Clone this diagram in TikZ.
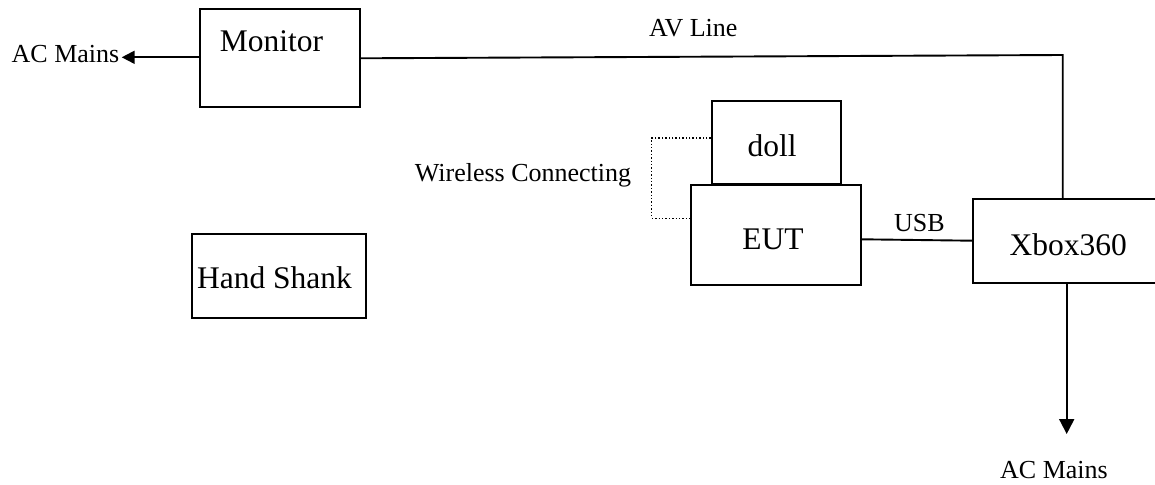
\documentclass[tikz,border=0pt]{standalone}
\usepackage{fontspec}
\setmainfont{Liberation Serif}
\usetikzlibrary{arrows.meta}
\begin{document}
\begin{tikzpicture}[x=1pt,y=-1pt,
  box/.style={draw,line width=1.9pt,inner sep=0pt},
  big/.style={font=\fontsize{31.5}{36}\selectfont,anchor=base,inner sep=0pt},
  lbl/.style={font=\fontsize{26}{30}\selectfont,anchor=base,inner sep=0pt},
  wire/.style={line width=1.9pt},
  dotline/.style={line width=1.4pt,dotted}]
\useasboundingbox (0,0) rectangle (1155,484);
% boxes
\node[box,minimum width=160pt,minimum height=98pt] (mon) at (280,58) {};
\node[box,minimum width=174pt,minimum height=84pt] (hs) at (279,276) {};
\node[box,minimum width=129pt,minimum height=83.3pt] (doll) at (776.2,142.3) {};
\node[box,minimum width=169.7pt,minimum height=99.7pt] (eut) at (775.8,235.2) {};
\node[box,minimum width=190pt,minimum height=84pt] (xb) at (1068.3,241.3) {};
% texts
\node[big] (tmon) at (271.5,51.7) {Monitor};
\node[big] (ths) at (274.5,288) {Hand Shank};
\node[big] (tdoll) at (772,156) {doll};
\node[big] (teut) at (773,249.3) {EUT};
\node[big] (txb) at (1068.3,255) {Xbox360};
\node[lbl] (ac1) at (65.5,62.3) {AC Mains};
\node[lbl] (av) at (693.3,36.7) {AV Line};
\node[lbl] (wl) at (523,181.7) {Wireless Connecting};
\node[lbl] (usb) at (919.5,231.7) {USB};
\node[lbl] (ac2) at (1054,478.5) {AC Mains};
% connector ends
\coordinate (acl) at (121.7,57.3);
\coordinate (avc) at (1062.7,55);
\coordinate (dl) at (651.7,138);
\coordinate (acb) at (1066.7,434);
% connectors
\draw[wire,-{Triangle[length=13pt,width=13pt]}] (mon.west |- acl) -- (acl);
\draw[wire] (mon.east |- 0,58.3) -- (avc) -- (avc |- xb.north);
\draw[wire] (eut.east |- 0,239.3) -- (xb.west |- 0,240.7);
\draw[dotline] (doll.west |- dl) -- (dl) -- (dl |- 0,218.3) -- (eut.west |- 0,218.3);
\draw[wire,-{Triangle[length=15pt,width=15pt]}] (acb |- xb.south) -- (acb);
\end{tikzpicture}
\end{document}
